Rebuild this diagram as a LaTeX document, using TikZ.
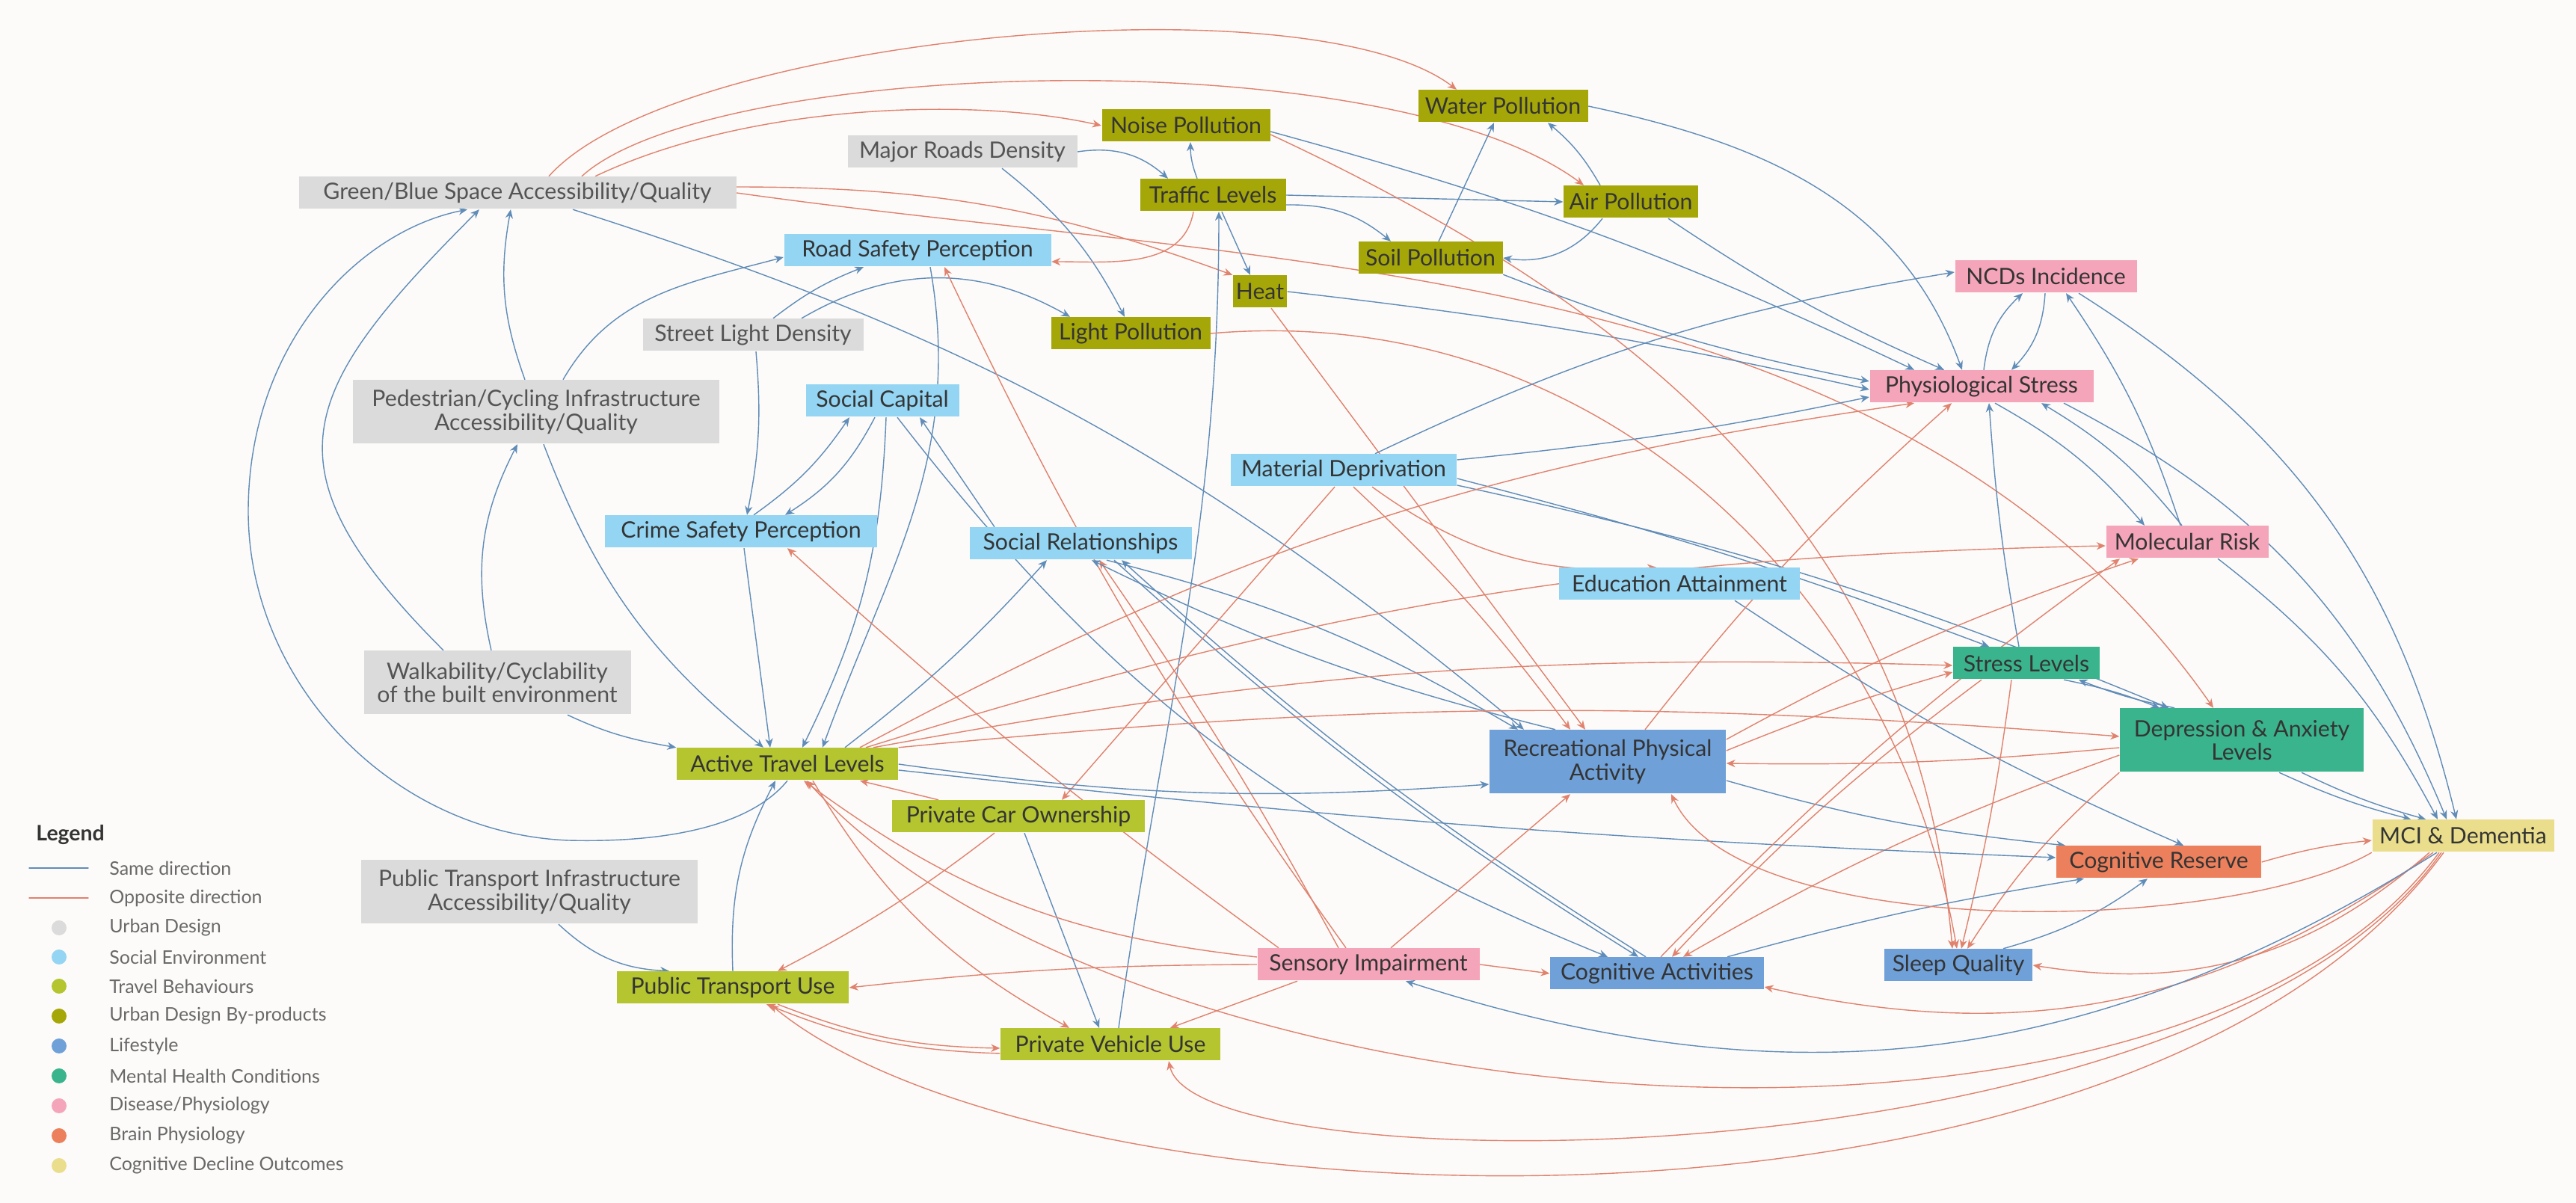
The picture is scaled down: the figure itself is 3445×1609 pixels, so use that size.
\documentclass[tikz,border=0pt]{standalone}
\usepackage{fontspec}
\setmainfont{Lato}
\usetikzlibrary{arrows.meta,positioning}
\definecolor{bg}{RGB}{252,251,249}
\definecolor{txt}{RGB}{52,52,52}
\definecolor{mu}{RGB}{105,105,105}
\definecolor{urb}{RGB}{219,219,219}
\definecolor{soc}{RGB}{147,213,243}
\definecolor{trav}{RGB}{180,197,48}
\definecolor{byp}{RGB}{165,167,8}
\definecolor{life}{RGB}{111,160,216}
\definecolor{ment}{RGB}{58,180,140}
\definecolor{dis}{RGB}{245,165,186}
\definecolor{brain}{RGB}{236,128,92}
\definecolor{cogn}{RGB}{234,222,140}
\definecolor{samec}{RGB}{96,140,184}
\definecolor{oppc}{RGB}{224,130,110}
\pgfdeclarelayer{back}
\pgfdeclarelayer{edges}
\pgfsetlayers{back,edges,main}
\tikzset{
  every picture/.style={line width=0.7pt, line cap=round, line join=round,
    >={Stealth[length=3.4pt,width=2.9pt]}},
  every node/.style={font=\fontsize{8.6}{8.9}\selectfont},
  % Kaesten
  box/.style={rectangle, inner sep=1pt, minimum height=4.3mm, align=center, text=txt},
  tall/.style={minimum height=8.5mm},
  % Verbindungen
  samedir/.style={samec, ->},
  oppdir/.style={oppc, ->},
  % Legende
  legtxt/.style={anchor=west, text=mu, font=\fontsize{7.1}{8}\selectfont},
  legdot/.style={circle, inner sep=0pt, minimum size=2mm},
}
\begin{document}
\begin{tikzpicture}[x=0.1mm, y=0.1mm]
  \begin{pgfonlayer}{back}
    \fill[bg] (0,0) rectangle (3445,1609);
  \end{pgfonlayer}
  \useasboundingbox (0,0) rectangle (3445,1609);

  % Stadtgestaltung und Nebenprodukte
  \node[box, fill=urb, text=mu!80!black, minimum width=58.5mm] (gbs) at (692,1351) {Green/Blue Space Accessibility/Quality};
  \node[box, fill=urb, text=mu!80!black, minimum width=30.7mm] (mrd) at (1287,1406) {Major Roads Density};
  \node[box, fill=byp, minimum width=22.5mm] (noise) at (1586,1441) {Noise Pollution};
  \node[box, fill=byp, minimum width=22.7mm] (water) at (2010,1467) {Water Pollution};
  \node[box, fill=byp, minimum width=19.5mm] (traffic) at (1622,1348) {Traffic Levels};
  \node[box, fill=byp, minimum width=18mm] (air) at (2181,1339) {Air Pollution};
  \node[box, fill=soc, minimum width=35.7mm] (rsp) at (1227,1274) {Road Safety Perception};
  \node[box, fill=byp, minimum width=19.3mm] (soil) at (1913,1264) {Soil Pollution};
  \node[box, fill=byp, minimum width=7.2mm] (heat) at (1685,1219) {Heat};
  \node[box, fill=byp, minimum width=21.3mm] (light) at (1512,1163) {Light Pollution};
  \node[box, fill=urb, text=mu!80!black, minimum width=29.5mm] (sld) at (1007,1161) {Street Light Density};
  \node[box, fill=urb, text=mu!80!black, tall, minimum width=49mm] (pci) at (717,1058) {Pedestrian/Cycling Infrastructure\\Accessibility/Quality};
  \node[box, fill=urb, text=mu!80!black, tall, minimum width=35.7mm] (walk) at (665,696) {Walkability/Cyclability\\of the built environment};
  \node[box, fill=urb, text=mu!80!black, tall, minimum width=45mm] (pti) at (708,416) {Public Transport Infrastructure\\Accessibility/Quality};
  % soziales Umfeld
  \node[box, fill=soc, minimum width=20.5mm] (scap) at (1180,1073) {Social Capital};
  \node[box, fill=soc, minimum width=30.2mm] (matd) at (1797,980) {Material Deprivation};
  \node[box, fill=soc, minimum width=36.4mm] (csp) at (991,898) {Crime Safety Perception};
  \node[box, fill=soc, minimum width=29.7mm] (srel) at (1445,882) {Social Relationships};
  \node[box, fill=soc, minimum width=32.2mm] (edu) at (2246,828) {Education Attainment};
  % Mobilitaet
  \node[box, fill=trav, minimum width=29.6mm] (atl) at (1053,587) {Active Travel Levels};
  \node[box, fill=trav, minimum width=33.8mm] (pco) at (1362,517) {Private Car Ownership};
  \node[box, fill=trav, minimum width=31mm] (ptu) at (980,288) {Public Transport Use};
  \node[box, fill=trav, minimum width=29.4mm] (pvu) at (1485,212) {Private Vehicle Use};
  % Gesundheit, Lebensstil
  \node[box, fill=dis, minimum width=24.3mm] (ncd) at (2736,1239) {NCDs Incidence};
  \node[box, fill=dis, minimum width=29.9mm] (phys) at (2650,1092) {Physiological Stress};
  \node[box, fill=dis, minimum width=21.7mm] (mol) at (2925,884) {Molecular Risk};
  \node[box, fill=ment, minimum width=19.6mm] (stress) at (2710,722) {Stress Levels};
  \node[box, fill=ment, tall, minimum width=32.6mm] (dep) at (2998,619) {Depression \& Anxiety\\Levels};
  \node[box, fill=life, tall, minimum width=31.6mm] (rpa) at (2150,590) {Recreational Physical\\Activity};
  \node[box, fill=cogn, minimum width=24.3mm] (mci) at (3294,491) {MCI \& Dementia};
  \node[box, fill=brain, minimum width=27.4mm] (cres) at (2887,456) {Cognitive Reserve};
  \node[box, fill=dis, minimum width=29.7mm] (sens) at (1830,319) {Sensory Impairment};
  \node[box, fill=life, minimum width=28.6mm] (cact) at (2216,307) {Cognitive Activities};
  \node[box, fill=life, minimum width=19.8mm] (sleep) at (2619,318) {Sleep Quality};

  \begin{pgfonlayer}{edges}
  % linker Bereich
  \draw[samedir] (atl.south) .. controls (1000,500) and (880,482) .. (760,485)
    .. controls (520,495) and (332,700) .. (332,925)
    .. controls (332,1150) and (480,1300) .. ([xshift=-6.7mm]gbs.south);
  \draw[samedir] ([xshift=-7.2mm]walk.north) to[out=135,in=-135,looseness=1.5] ([xshift=-5.1mm]gbs.south);
  \draw[samedir] ([xshift=-1.5mm]pci.north) to[bend left=15] ([xshift=-0.9mm]gbs.south);
  \draw[samedir] ([xshift=-0.8mm]walk.north) to[bend left=20] ([xshift=-2.5mm]pci.south);
  \draw[samedir] ([xshift=3.6mm]pci.north) to[out=60,in=195] ([yshift=-0.9mm]rsp.west);
  \draw[samedir] ([xshift=1mm]pci.south) to[bend right=15] ([xshift=-3.2mm]atl.north);
  \draw[samedir] ([xshift=9.4mm]walk.south) to[out=-25,in=170] (atl.north west);
  \draw[samedir] ([xshift=2.7mm]sld.north) to[bend left=8] ([xshift=-7.2mm]rsp.south);
  \draw[samedir] ([xshift=0.4mm]sld.south) to[bend left=8] ([xshift=0.8mm]csp.north);
  \draw[samedir] ([xshift=6.5mm]sld.north) to[bend left=30] ([xshift=-8.1mm]light.north);
  \draw[samedir] ([xshift=1.7mm]csp.north) to[bend right=10] ([xshift=-4.4mm]scap.south);
  \draw[samedir] ([xshift=-1mm]scap.south) to[bend left=15] ([xshift=5.9mm]csp.north);
  \draw[samedir] ([xshift=0.4mm]csp.south) to ([xshift=-2.3mm]atl.north);
  \draw[samedir] ([xshift=0.5mm]scap.south) to[bend left=12] ([xshift=2mm]atl.north);
  \draw[samedir] ([xshift=-11.5mm]srel.north) to ([xshift=5mm]scap.south);
  \draw[samedir] ([xshift=1.7mm]rsp.south) to[out=-80,in=70] ([xshift=4.7mm]atl.north);
  \draw[samedir] ([xshift=7.4mm]gbs.south) to[bend left=11] ([xshift=-11.2mm]rpa.north);
  % oberer Bereich
  \draw[oppdir] ([xshift=4.2mm]gbs.north) .. controls (900,1560) and (1750,1640) .. ([xshift=-6.2mm]water.north);
  \draw[oppdir] ([xshift=8.6mm]gbs.north) .. controls (950,1530) and (1850,1560) .. ([xshift=-6.3mm]air.north);
  \draw[oppdir] ([xshift=10.4mm]gbs.north) .. controls (1000,1470) and (1300,1480) .. (noise.west);
  \draw[oppdir] ([yshift=0.8mm]gbs.east) to[bend left=10] (heat.north west);
  \draw[oppdir] (gbs.east) to[out=-8,in=125,looseness=0.9] ([xshift=-3.8mm]dep.north);
  \draw[samedir] (mrd.east) to[bend left=25] ([xshift=-6mm]traffic.north);
  \draw[samedir] ([xshift=5.3mm]mrd.south) to[bend left=12] ([xshift=-0.8mm]light.north);
  \draw[samedir] ([xshift=-2.1mm]traffic.north) to[bend left=10] ([xshift=0.6mm]noise.south);
  \draw[samedir] (traffic.east) -- (air.west);
  \draw[samedir] ([yshift=-1.3mm]traffic.east) to[bend left=20] ([xshift=-5.3mm]soil.north);
  \draw[samedir] ([xshift=1.2mm]traffic.south) -- ([xshift=-1.3mm]heat.north);
  \draw[samedir] ([xshift=1.1mm]pvu.north) to[out=82,in=-90] ([xshift=0.8mm]traffic.south);
  \draw[oppdir] ([xshift=-2.6mm]traffic.south) to[out=-100,in=0] ([yshift=-1.5mm]rsp.east);
  \draw[samedir] ([xshift=-4.1mm]air.north) to[bend right=10] ([xshift=6mm]water.south);
  \draw[samedir] ([xshift=1.1mm]soil.north) -- ([xshift=-1.2mm]water.south);
  \draw[samedir] ([xshift=-3.8mm]air.south) to[bend left=30] (soil.east);
  \draw[samedir] ([yshift=-0.8mm]noise.east) to[bend left=5] ([xshift=-9mm]phys.north);
  \draw[samedir] ([xshift=5mm]air.south) to[bend right=5] ([xshift=-5mm]phys.north);
  \draw[samedir] (soil.south east) to[bend right=5] ([yshift=0.7mm]phys.west);
  \draw[samedir] (heat.east) to[bend left=3] ([yshift=-0.4mm]phys.west);
  \draw[samedir] (water.east) to[out=-12,in=110] ([xshift=-2.6mm]phys.north);
  \draw[oppdir] ([yshift=-1.2mm]noise.east) to[out=-25,in=95] ([xshift=-0.8mm]sleep.north);
  \draw[oppdir] (light.east) to[out=5,in=100] ([xshift=-0.2mm]sleep.north);
  \draw[oppdir] ([xshift=1.5mm]heat.south) -- ([xshift=-3mm]rpa.north);
  % soziales Umfeld
  \draw[oppdir] ([xshift=-3mm]sens.north) to[bend left=5] ([xshift=3.6mm]rsp.south);
  \draw[oppdir] ([xshift=-12mm]sens.north) to[bend left=3] ([xshift=6.2mm]csp.south);
  \draw[oppdir] ([xshift=-4mm]sens.north) to[bend right=3] ([xshift=2.5mm]srel.south);
  \draw[samedir] ([xshift=3.5mm]srel.south) to[bend left=8] ([xshift=-12mm]rpa.north);
  \draw[samedir] ([xshift=-7mm]rpa.north) to[bend left=6] ([xshift=1.5mm]srel.south);
  \draw[samedir] ([xshift=4.5mm]srel.south) to[bend right=5] ([xshift=-2.5mm]cact.north);
  \draw[samedir] ([xshift=-1.5mm]cact.north) to[bend left=5] ([xshift=5.5mm]srel.south);
  \draw[samedir] ([xshift=7.7mm]atl.north) to[bend right=5] ([xshift=-4.5mm]srel.south);
  \draw[samedir] ([xshift=2mm]scap.south) to[bend right=15] ([xshift=-6.6mm]cact.north);
  \draw[samedir] ([xshift=4.2mm]matd.north) to[bend left=8] ([yshift=0.6mm]ncd.west);
  \draw[samedir] ([yshift=1.4mm]matd.east) to[bend right=3] ([yshift=-1.4mm]phys.west);
  \draw[samedir] ([yshift=-1.1mm]matd.east) to[bend left=3] ([xshift=-5mm]stress.north);
  \draw[samedir] ([yshift=-2mm]matd.east) to[bend left=5] ([xshift=-9.8mm]dep.north);
  \draw[oppdir] ([xshift=3.8mm]matd.south) to[bend right=20] ([xshift=-3.1mm]edu.north);
  \draw[oppdir] ([xshift=1.3mm]matd.south) to[bend left=5] ([xshift=-5mm]rpa.north);
  \draw[oppdir] ([xshift=-1.2mm]matd.south) to ([xshift=5.8mm]pco.north);
  \draw[samedir] ([xshift=7.4mm]edu.south) to[bend right=5] ([xshift=3.3mm]cres.north);
  % Gesundheit
  \draw[samedir] ([xshift=0.3mm]phys.north) to[bend left=20] ([xshift=-3.1mm]ncd.south);
  \draw[samedir] ([xshift=-0.1mm]ncd.south) to[bend left=20] ([xshift=4mm]phys.north);
  \draw[samedir] ([xshift=-0.9mm]mol.north) to[bend right=8] ([xshift=2.7mm]ncd.south);
  \draw[samedir] ([xshift=4.4mm]ncd.south) to[bend left=22] ([xshift=-0.9mm]mci.north);
  \draw[samedir] ([xshift=1.8mm]phys.south) to[bend left=10] ([xshift=-5.7mm]mol.north);
  \draw[samedir] ([xshift=-0.7mm]mol.north) to[bend right=10] ([xshift=8mm]phys.south);
  \draw[samedir] ([xshift=11mm]phys.south) to[bend left=20] ([xshift=-2.2mm]mci.north);
  \draw[samedir] ([xshift=-1mm]stress.north) to[bend left=3] ([xshift=1mm]phys.south);
  \draw[samedir] ([xshift=4.1mm]mol.south) to[bend left=12] ([xshift=-3.4mm]mci.north);
  \draw[samedir] ([xshift=5mm]stress.south) to[bend left=5] ([xshift=-11mm]dep.north);
  \draw[samedir] ([xshift=-9mm]dep.north) to[bend left=5] ([xshift=7mm]stress.south);
  \draw[samedir] ([xshift=5mm]dep.south) to[bend right=5] ([xshift=-7mm]mci.north);
  \draw[samedir] ([xshift=8mm]dep.south) to[bend right=5] ([xshift=-5mm]mci.north);
  \draw[oppdir] ([xshift=-2mm]stress.south) to[bend left=3] ([xshift=0.4mm]sleep.north);
  \draw[oppdir] (dep.south west) to[bend right=8] ([xshift=1.2mm]sleep.north);
  \draw[oppdir] ([yshift=-2mm]dep.west) to[bend right=5] ([xshift=3.5mm]cact.north);
  \draw[oppdir] ([xshift=-6mm]stress.south) to[bend right=5] ([xshift=2mm]cact.north);
  \draw[samedir] ([xshift=6mm]sleep.north) to[bend right=10] ([xshift=-1.5mm]cres.south);
  \draw[samedir] ([xshift=9.4mm]cact.north) to[bend left=3] ([xshift=-10mm]cres.south);
  \draw[samedir] ([yshift=-2.5mm]rpa.east) to[bend right=5] ([xshift=-12.5mm]cres.north);
  \draw[samedir] ([yshift=-0.8mm]atl.east) to[bend right=2] ([yshift=0.6mm]cres.west);
  \draw[oppdir] (cres.east) to[bend left=5] ([yshift=-0.6mm]mci.west);
  \draw[oppdir] (mci.south west) to[out=-150,in=-65,looseness=0.6] ([xshift=8.5mm]rpa.south);
  \draw[oppdir] ([xshift=-4.5mm]mci.south) to[bend left=25] (sleep.east);
  \draw[oppdir] ([xshift=-4mm]mci.south) to[bend left=24] ([yshift=-1.8mm]cact.east);
  \draw[samedir] ([xshift=-3.5mm]mci.south) to[bend left=25] ([xshift=5mm]sens.south);
  \draw[oppdir] ([xshift=-3.2mm]mci.south) .. controls (2900,-20) and (1500,100) .. ([xshift=2.6mm]atl.south);
  \draw[oppdir] ([xshift=-2.9mm]mci.south) .. controls (2950,20) and (1600,20) .. ([xshift=7.8mm]pvu.south);
  \draw[oppdir] ([xshift=-2.6mm]mci.south) .. controls (2850,-100) and (1400,-40) .. ([xshift=5mm]ptu.south);
  % Mobilitaet
  \draw[samedir] ([xshift=3.9mm]pti.south) to[bend right=20] ([xshift=-8.5mm]ptu.north);
  \draw[samedir] (ptu.north) to[bend left=15] ([xshift=-1.6mm]atl.south);
  \draw[oppdir] ([xshift=-3.2mm]pco.south) to[bend left=5] ([xshift=6mm]ptu.north);
  \draw[samedir] ([xshift=0.8mm]pco.south) -- ([xshift=-1.5mm]pvu.north);
  \draw[oppdir] ([xshift=-10.7mm]pco.north) to ([xshift=9.7mm]atl.south);
  \draw[oppdir] ([xshift=3.4mm]atl.south) to[bend right=15] ([xshift=-5.5mm]pvu.north);
  \draw[oppdir] ([xshift=6mm]ptu.south) to[bend right=10] ([yshift=-0.5mm]pvu.west);
  \draw[oppdir] ([yshift=-1.2mm]pvu.west) to[bend left=10] ([xshift=4.5mm]ptu.south);
  \draw[oppdir] (sens.west) to[bend right=3] (ptu.east);
  \draw[oppdir] ([xshift=-9.5mm]sens.south) to ([xshift=8mm]pvu.north);
  \draw[oppdir] ([yshift=1mm]sens.west) to[bend left=15] ([xshift=2.2mm]atl.south);
  \draw[oppdir] (sens.east) -- (cact.west);
  \draw[oppdir] ([xshift=3mm]sens.north) to ([xshift=-5mm]rpa.south);
  \draw[samedir] (atl.east) to[bend right=6] ([yshift=-3mm]rpa.west);
  \draw[oppdir] ([xshift=9.7mm]atl.north) to[bend left=10] ([xshift=-9mm]phys.south);
  \draw[oppdir] ([xshift=10.5mm]atl.north) to[bend left=8] ([yshift=-0.5mm]mol.west);
  \draw[oppdir] ([xshift=11.5mm]atl.north) to[bend left=6] ([yshift=-0.3mm]stress.west);
  \draw[oppdir] (atl.north east) to[bend left=5] ([yshift=0.5mm]dep.west);
  \draw[oppdir] ([xshift=5mm]rpa.north) to[bend left=5] ([xshift=-4mm]phys.south);
  \draw[oppdir] ([yshift=3mm]rpa.east) to[bend left=5] ([xshift=-6.5mm]mol.south);
  \draw[oppdir] ([yshift=1.5mm]rpa.east) to[bend left=3] ([yshift=-1.2mm]stress.west);
  \draw[oppdir] ([yshift=-1mm]dep.west) to[bend left=3] ([yshift=-0.2mm]rpa.east);
  \draw[oppdir] ([xshift=0.5mm]cact.north) to[bend left=5] ([xshift=-9mm]mol.south);
  \end{pgfonlayer}

  % Legende
  \node[anchor=west, text=txt, font=\fontsize{8.1}{9}\bfseries] (lgd) at (36,492) {Legend};
  \coordinate (ls) at (39,448);
  \coordinate (lo) at (39,408);
  \draw[samec] (ls) -- ++(79,0);
  \draw[oppc] (lo) -- ++(79,0);
  \node[legtxt] (lsame) at (134,448) {Same direction};
  \node[legtxt] (lopp) at (134,408) {Opposite direction};
  \node[legdot, fill=urb] (d1) at (79,368) {};   \node[legtxt] at (134,368) {Urban Design};
  \node[legdot, fill=soc] (d2) at (79,329) {};   \node[legtxt] at (134,329) {Social Environment};
  \node[legdot, fill=trav] (d3) at (79,290) {};  \node[legtxt] at (134,290) {Travel Behaviours};
  \node[legdot, fill=byp] (d4) at (79,250) {};   \node[legtxt] at (134,250) {Urban Design By-products};
  \node[legdot, fill=life] (d5) at (79,210) {};  \node[legtxt] at (134,210) {Lifestyle};
  \node[legdot, fill=ment] (d6) at (79,170) {};  \node[legtxt] at (134,170) {Mental Health Conditions};
  \node[legdot, fill=dis] (d7) at (79,130) {};   \node[legtxt] at (134,130) {Disease/Physiology};
  \node[legdot, fill=brain] (d8) at (79,90) {};  \node[legtxt] at (134,90) {Brain Physiology};
  \node[legdot, fill=cogn] (d9) at (79,50) {};   \node[legtxt] at (134,50) {Cognitive Decline Outcomes};
\end{tikzpicture}
\end{document}
